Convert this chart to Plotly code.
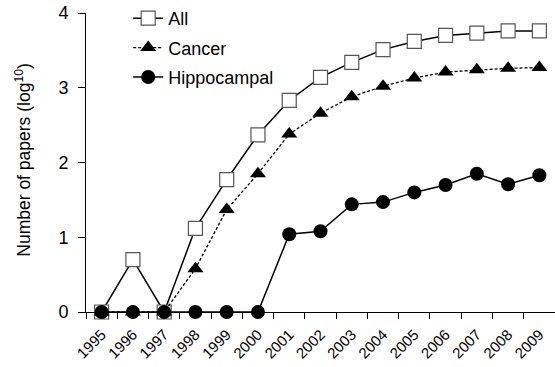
import plotly.graph_objects as go

years = [str(y) for y in range(1995, 2010)]
all_papers = [0, 0.70, 0, 1.12, 1.77, 2.37, 2.83, 3.14, 3.34, 3.51, 3.62, 3.70, 3.73, 3.76, 3.76]
cancer = [0, 0, 0, 0.58, 1.37, 1.85, 2.38, 2.66, 2.88, 3.02, 3.13, 3.21, 3.24, 3.26, 3.27]
hippocampal = [0, 0, 0, 0, 0, 0, 1.04, 1.08, 1.44, 1.47, 1.60, 1.70, 1.85, 1.71, 1.83]
y_ticks = [0, 1, 2, 3, 4]

FONT = "Liberation Sans, Arial, sans-serif"

fig = go.Figure()
fig.add_trace(go.Scatter(
    x=years, y=all_papers, name="All", mode="lines+markers", legendgroup="a",
    line=dict(color="black", width=1.5), cliponaxis=False,
    marker=dict(symbol="square", size=14, color="white", line=dict(color="#555555", width=1.2)),
))
fig.add_trace(go.Scatter(
    x=years, y=cancer, name="Cancer", mode="lines+markers", legendgroup="b",
    line=dict(color="black", width=1.3, dash="3px,2px"), cliponaxis=False,
    marker=dict(symbol="triangle-up", size=14, color="black"),
))
fig.add_trace(go.Scatter(
    x=years, y=hippocampal, name="Hippocampal", mode="lines+markers", legendgroup="c",
    line=dict(color="black", width=1.5), cliponaxis=False,
    marker=dict(symbol="circle", size=14, color="black"),
))

fig.update_layout(
    width=555, height=367,
    margin=dict(l=86, r=0, t=12, b=55),
    paper_bgcolor="white", plot_bgcolor="white",
    font=dict(family=FONT, color="black"),
    showlegend=True,
    legend=dict(
        x=0.09, y=1.045, xanchor="left", yanchor="top",
        font=dict(size=18, family=FONT), bgcolor="rgba(0,0,0,0)",
        tracegroupgap=3, traceorder="grouped",
    ),
    xaxis=dict(
        type="category", range=[-0.5, 14.5],
        showline=True, linecolor="black", linewidth=1,
        ticks="outside", tickson="boundaries", ticklen=6, tickcolor="black",
        tickangle=-45, tickfont=dict(size=15, family=FONT), ticklabelstandoff=7,
        showgrid=False, zeroline=False,
    ),
    yaxis=dict(
        range=[0, 4], tickvals=y_ticks,
        showline=True, linecolor="black", linewidth=1,
        ticks="outside", ticklen=7, tickcolor="black",
        tickfont=dict(size=18, family=FONT), ticklabelstandoff=6,
        showgrid=False, zeroline=False,
    ),
    annotations=[dict(
        text="Number of papers (log<sup>10</sup>)", textangle=-90,
        xref="paper", yref="paper", x=-0.136, y=0.51,
        xanchor="center", yanchor="middle", showarrow=False,
        font=dict(size=17.5, family=FONT),
    )],
)

fig.write_html("out.html")
